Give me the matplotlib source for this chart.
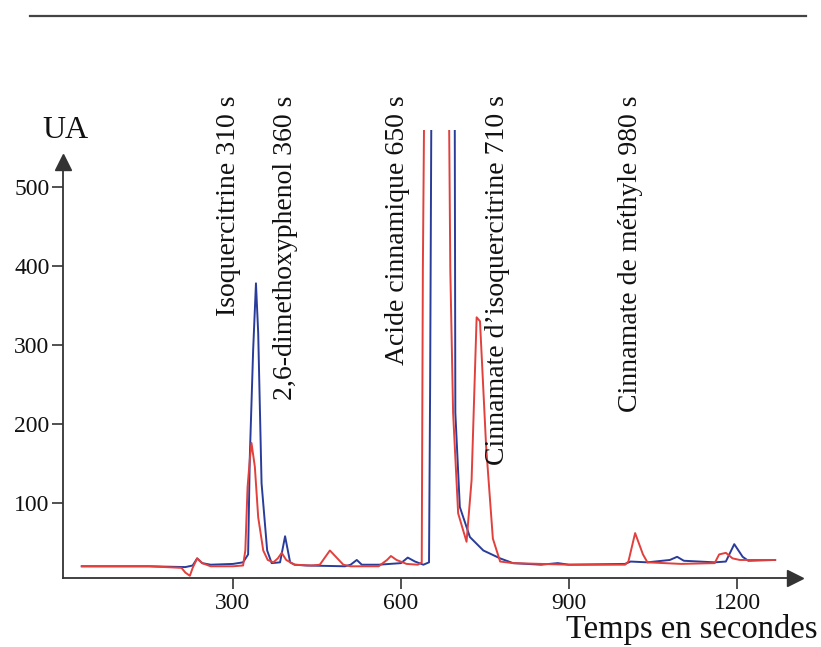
import numpy as np
import matplotlib
matplotlib.use('Agg')
import matplotlib.pyplot as plt
from matplotlib.lines import Line2D

# Chromatogram: time (s) / response (UA)
blue_t = [30, 150, 215, 228, 236, 245, 260, 300, 318, 327, 330, 336, 341, 345, 351, 361,
          369, 384, 393, 402, 410, 430, 500, 510, 521, 530, 560, 600, 612, 625, 640, 650,
          652, 654, 655, 695, 696, 697, 705, 723, 747, 777, 800, 850, 880, 900, 1000, 1010,
          1040, 1080, 1093, 1105, 1160, 1180, 1195, 1210, 1220, 1268]
blue_v = [20, 20, 19, 21, 30, 24, 22, 23, 25, 35, 158, 294, 378, 315, 125, 40,
          24, 25, 58, 25, 22, 21, 20, 22, 28, 22, 22, 24, 31, 26, 22, 25,
          250, 572, 2000, 2000, 572, 214, 95, 57, 40, 30, 24, 22, 24, 22, 23, 26,
          25, 28, 32, 27, 25, 26, 48, 32, 27, 28]

red_t = [30, 150, 208, 215, 223, 228, 236, 245, 260, 300, 318, 322, 326, 330, 333, 339,
         345, 354, 362, 372, 380, 387, 395, 410, 440, 455, 473, 497, 510, 560, 575, 582,
         592, 610, 630, 637, 639, 641, 642, 685, 686, 688, 693, 702, 717, 726, 735, 741,
         752, 764, 777, 800, 900, 1000, 1006, 1018, 1032, 1040, 1100, 1160, 1168, 1180,
         1192, 1205, 1268]
red_v = [20, 20, 18, 12, 8, 18, 30, 24, 20, 20, 21, 40, 120, 155, 176, 146,
         82, 40, 28, 25, 30, 37, 28, 22, 21, 22, 40, 22, 20, 20, 28, 33,
         28, 23, 22, 25, 395, 572, 2000, 2000, 572, 395, 214, 87, 51, 129, 335, 330,
         171, 55, 26, 24, 22, 22, 26, 62, 35, 25, 23, 24, 35, 37,
         30, 28, 28]

peak_names = ['Isoquercitrine 310 s', '2,6-dimethoxyphenol 360 s', 'Acide cinnamique 650 s',
              'Cinnamate d\u2019isoquercitrine 710 s', 'Cinnamate de m\u00e9thyle 980 s']
peak_pos = [292, 393, 593, 773, 1009]

x_ticks = [300, 600, 900, 1200]
y_ticks = [100, 200, 300, 400, 500]

BLUE = '#2a3c9a'
RED = '#e2403c'
AXC = '#333333'

plt.rcParams['font.family'] = ['Liberation Serif', 'DejaVu Serif']

fig = plt.figure(figsize=(8.21, 6.47), dpi=100)
ax = fig.add_axes([0.0655, 0.0881, 0.9148, 0.711])

ax.plot(blue_t, blue_v, color=BLUE, lw=1.4)
ax.plot(red_t, red_v, color=RED, lw=1.4)

ax.set_xlim(-20, 1321)
ax.set_ylim(-10, 572)

for s in ['top', 'right']:
    ax.spines[s].set_visible(False)
ax.spines['left'].set_position(('data', -3))
ax.spines['left'].set_bounds(5, 530)
ax.spines['bottom'].set_position(('data', 5))
ax.spines['bottom'].set_bounds(-3, 1300)
for s in ['left', 'bottom']:
    ax.spines[s].set_color(AXC)
    ax.spines[s].set_linewidth(1.3)

# arrow heads
ax.plot([1303], [5], marker='>', ms=12, color=AXC, clip_on=False)
ax.plot([-3], [532], marker='^', ms=11, color=AXC, clip_on=False)

ax.set_xticks(x_ticks)
ax.set_yticks(y_ticks)
ax.tick_params(axis='both', direction='out', length=8, width=1.2, color=AXC,
               labelsize=17, labelcolor='#111111')
ax.tick_params(axis='x', pad=3)
ax.tick_params(axis='y', pad=2)

# peak labels
for name, pos in zip(peak_names, peak_pos):
    ax.text(pos, 616, name, rotation=90, ha='center', va='top', fontsize=20,
            color='#111111', clip_on=False)

ax.text(0, 571, 'UA', ha='center', va='center', fontsize=23, color='#111111', clip_on=False)
fig.text(0.996, 1 - 638 / 647, 'Temps en secondes', ha='right', va='baseline',
         fontsize=23.5, color='#111111')

# rule at the top of the page
fig.add_artist(Line2D([0.0365, 0.982], [0.9753, 0.9753], transform=fig.transFigure,
                      color='#444444', lw=1.6))

fig.savefig('out.png', dpi=100)
